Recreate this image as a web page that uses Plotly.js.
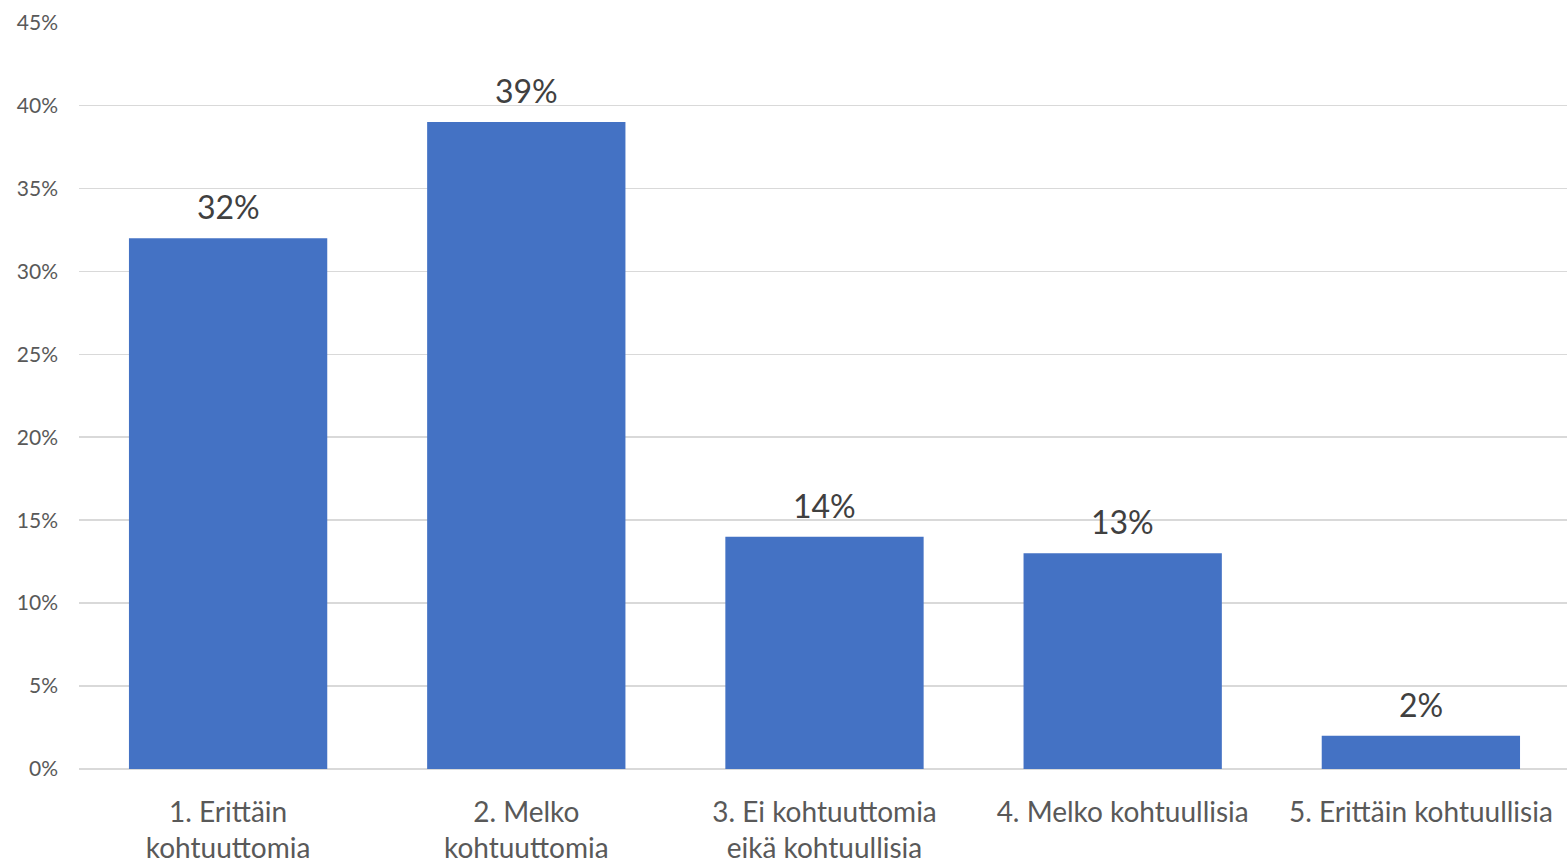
<!DOCTYPE html>
<html><head><meta charset="utf-8">
<script src="https://cdn.plot.ly/plotly-3.0.1.min.js"></script>
<style>html,body{margin:0;padding:0;background:#fff}#c{width:1567px;height:863px}</style>
</head><body><div id="c"></div>
<script>
const categories = ["1. Erittäin<br>kohtuuttomia","2. Melko<br>kohtuuttomia","3. Ei kohtuuttomia<br>eikä kohtuullisia","4. Melko kohtuullisia","5. Erittäin kohtuullisia"];
const values = [0.32, 0.39, 0.14, 0.13, 0.02];
const labels = ["32%","39%","14%","13%","2%"];
const tickVals = [0,0.05,0.10,0.15,0.20,0.25,0.30,0.35,0.40,0.45];
const tickText = ["0%","5%","10%","15%","20%","25%","30%","35%","40%","45%"];

const font = "Lato, 'Open Sans', sans-serif";
const trace = {type:'bar', x:categories, y:values, marker:{color:'#4472C4'}, hoverinfo:'none'};
const annotations = categories.map((c,i)=>({x:c, y:values[i], text:labels[i], showarrow:false, yanchor:'bottom', yshift:10, font:{family:font, size:32, color:'#404040'}}));
Plotly.newPlot('c',[trace],{
  width:1567,height:863,
  margin:{l:79,r:0,t:22,b:94},
  paper_bgcolor:'#fff',plot_bgcolor:'#fff',
  bargap:0.335,
  showlegend:false,
  xaxis:{range:[-0.5,4.49],tickfont:{family:font,size:28,color:'#595959'},showline:false,ticks:'',ticklabelstandoff:24},
  yaxis:{range:[0,0.4503],tickvals:tickVals,ticktext:tickText,tickfont:{family:font,size:21,color:'#595959'},gridcolor:'#d9d9d9',gridwidth:1.5,zeroline:true,zerolinecolor:'#d9d9d9',zerolinewidth:1.5,ticks:'',ticklabelstandoff:20},
  annotations:annotations
},{staticPlot:true});
</script></body></html>
